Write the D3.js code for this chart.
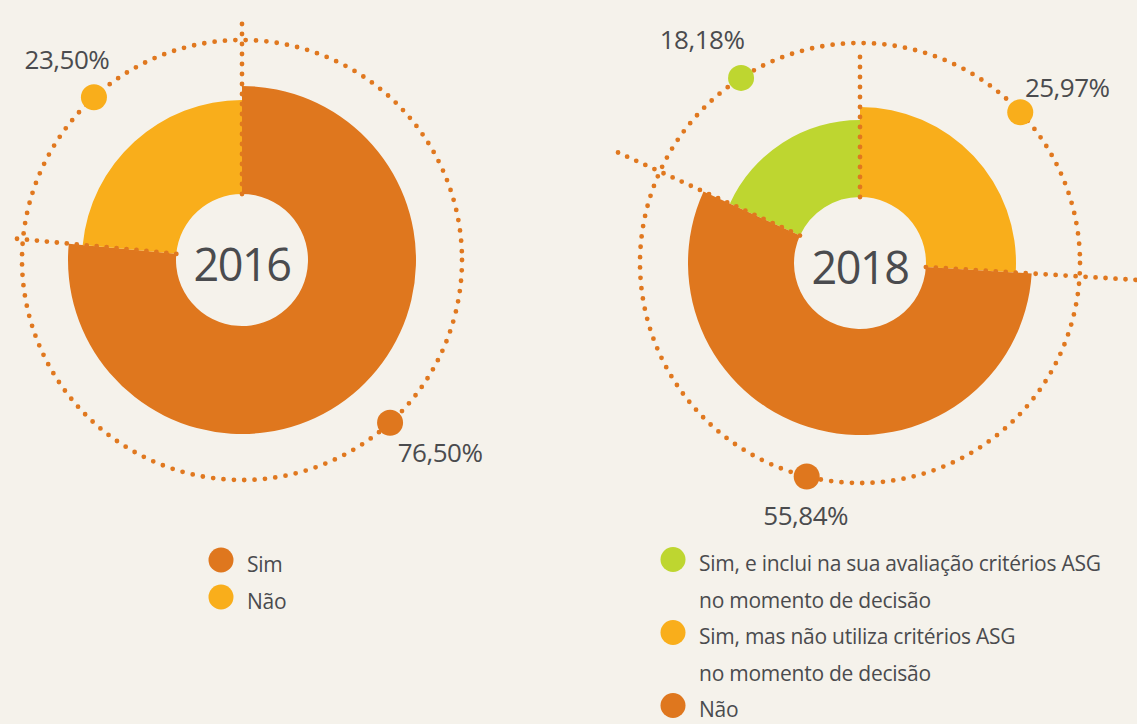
<!DOCTYPE html>
<html>
<head>
<meta charset="utf-8">
<script src="https://cdn.jsdelivr.net/npm/d3@7"></script>
<style>
  html, body { margin: 0; padding: 0; background: #f5f2eb; }
  svg { display: block; }
  text { font-family: "Open Sans", "Noto Sans", sans-serif; fill: #4a4b4e; }
</style>
</head>
<body>
<svg id="chart" width="1137" height="724"></svg>
<script>
// ---- data ----
const years = ["2016", "2018"];
const categories2016 = ["Sim", "Não"];
const values2016 = [76.50, 23.50];
const labels2016 = ["76,50%", "23,50%"];
const categories2018 = [
  "Sim, e inclui na sua avaliação critérios ASG no momento de decisão",
  "Sim, mas não utiliza critérios ASG no momento de decisão",
  "Não"
];
const legendLines2018 = [
  ["Sim, e inclui na sua avaliação critérios ASG", "no momento de decisão"],
  ["Sim, mas não utiliza critérios ASG", "no momento de decisão"],
  ["Não"]
];
const values2018 = [18.18, 25.97, 55.84];
const labels2018 = ["18,18%", "25,97%", "55,84%"];

// ---- styling / layout ----
const C_DARK = "#df771e", C_YEL = "#f9ae1b", C_GREEN = "#bed630", C_DOT = "#e0781f";
const charts = [
  {
    year: years[0], cats: categories2016, vals: values2016, labels: labels2016,
    legend: categories2016.map(c => [c]),
    colors: [C_DARK, C_YEL], outerR: [174, 160],
    cx: 242, cy: 260, innerR: 66, ringR: 220,
    startFromValueIndex: null,
    lineLen: [245, 232],
    labelOff: [[50, 39], [-27, -28]],
    legendX: 221, legendY: 560, legendStep: 37
  },
  {
    year: years[1], cats: categories2018, vals: values2018, labels: labels2018,
    legend: legendLines2018,
    colors: [C_GREEN, C_YEL, C_DARK], outerR: [143, 156, 172],
    cx: 860, cy: 263, innerR: 66, ringR: 220,
    startFromValueIndex: 0,
    lineLen: [274, 214, 292],
    labelOff: [[-39, -29], [47, -15], [-1, 49]],
    legendX: 673, legendY: 559.5, legendStep: 36.5
  }
];

const svg = d3.select("#chart");
const TAU = 2 * Math.PI;

charts.forEach(ch => {
  const total = d3.sum(ch.vals);
  const start = ch.startFromValueIndex === null ? 0 : -ch.vals[ch.startFromValueIndex] / total * TAU;
  const pie = d3.pie().sort(null).value(d => d).startAngle(start).endAngle(start + TAU);
  const arcs = pie(ch.vals);
  const g = svg.append("g").attr("transform", `translate(${ch.cx},${ch.cy})`);

  // slices
  g.selectAll("path.slice").data(arcs).join("path")
    .attr("class", "slice")
    .attr("fill", (d, i) => ch.colors[i])
    .attr("d", (d, i) => d3.arc().innerRadius(ch.innerR).outerRadius(ch.outerR[i])(d));

  // dotted ring
  g.append("circle").attr("r", ch.ringR)
    .attr("fill", "none").attr("stroke", C_DOT).attr("stroke-width", 4.8)
    .attr("stroke-linecap", "round").attr("stroke-dasharray", "0 10.4");

  // radial dotted lines at slice boundaries
  arcs.forEach((a, i) => {
    const ang = a.startAngle;
    const len = ch.lineLen[i];
    g.append("line")
      .attr("x1", Math.sin(ang) * ch.innerR).attr("y1", -Math.cos(ang) * ch.innerR)
      .attr("x2", Math.sin(ang) * len).attr("y2", -Math.cos(ang) * len)
      .attr("stroke", C_DOT).attr("stroke-width", 4.8)
      .attr("stroke-linecap", "round").attr("stroke-dasharray", "0 10");
  });

  // markers and value labels
  arcs.forEach((a, i) => {
    const m = (a.startAngle + a.endAngle) / 2;
    const x = Math.sin(m) * ch.ringR, y = -Math.cos(m) * ch.ringR;
    g.append("circle").attr("cx", x).attr("cy", y).attr("r", 13).attr("fill", ch.colors[i]);
    g.append("text").attr("x", x + ch.labelOff[i][0]).attr("y", y + ch.labelOff[i][1])
      .attr("text-anchor", "middle").attr("font-size", 26).attr("letter-spacing", -0.5)
      .text(ch.labels[i]);
  });

  // center year
  g.append("text").attr("x", 0).attr("y", 21).attr("text-anchor", "middle")
    .attr("font-size", 45).attr("letter-spacing", -1.5).text(ch.year);

  // legend
  let row = 0;
  ch.legend.forEach((lines, i) => {
    const y0 = ch.legendY + row * ch.legendStep;
    svg.append("circle").attr("cx", ch.legendX).attr("cy", y0).attr("r", 12.5).attr("fill", ch.colors[i]);
    lines.forEach((ln, k) => {
      svg.append("text").attr("x", ch.legendX + 26).attr("y", y0 + 11.5 + k * ch.legendStep)
        .attr("font-size", 21).attr("letter-spacing", -0.25).text(ln);
    });
    row += lines.length;
  });
});
</script>
</body>
</html>
